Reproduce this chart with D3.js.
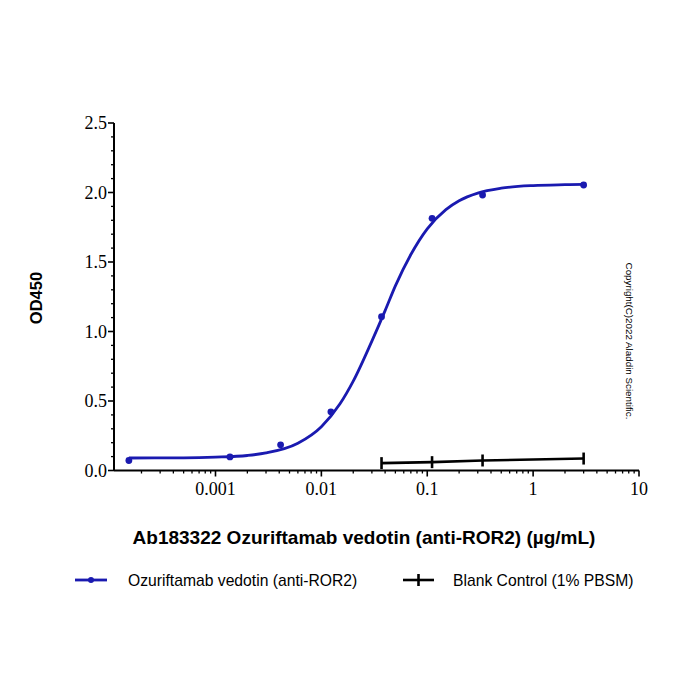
<!DOCTYPE html>
<html><head><meta charset="utf-8">
<script src="https://cdn.jsdelivr.net/npm/d3@7"></script>
<style>body{margin:0;background:#fff}svg{display:block}</style>
</head><body>
<svg id="c" width="700" height="700"></svg>
<script>
// Data
const sampleConc = [0.000152, 0.00137, 0.00412, 0.0123, 0.037, 0.111, 0.333, 3.0];
const sampleOD   = [0.072, 0.098, 0.185, 0.422, 1.107, 1.814, 1.982, 2.054];
const fitConc = [0.000152, 0.0005, 0.001, 0.002, 0.003, 0.006, 0.01, 0.015, 0.02, 0.03, 0.04, 0.05, 0.07, 0.1, 0.15, 0.2, 0.3, 0.5, 1, 2, 3.0];
const fitOD   = [0.090, 0.091, 0.096, 0.108, 0.126, 0.196, 0.315, 0.480, 0.643, 0.931, 1.150, 1.328, 1.554, 1.739, 1.877, 1.941, 1.996, 2.031, 2.050, 2.056, 2.058];
const blankConc = [0.037, 0.111, 0.333, 3.0];
const blankOD   = [0.053, 0.060, 0.072, 0.086];
const xTickValues = [0.001, 0.01, 0.1, 1, 10];
const xTickLabels = ["0.001", "0.01", "0.1", "1", "10"];
const yTickValues = [0, 0.5, 1.0, 1.5, 2.0, 2.5];
const yTickLabels = ["0.0", "0.5", "1.0", "1.5", "2.0", "2.5"];
const seriesNames = ["Ozuriftamab vedotin (anti-ROR2)", "Blank Control (1% PBSM)"];
const xTitle = "Ab183322 Ozuriftamab vedotin (anti-ROR2) (µg/mL)";
const yTitle = "OD450";
const copyright = "Copyright(C)2022 Aladdin Scientific.";

const blue = "#1a1ab0";
const svg = d3.select("#c");
const x = d3.scaleLog().domain([0.00011, 10]).range([114, 639]);
const y = d3.scaleLinear().domain([0, 2.5]).range([470.5, 123]);
const serif = "'Liberation Serif','Times New Roman',serif";
const sans = "'Liberation Sans',Arial,sans-serif";

// Y axis
const yAxisG = svg.append("g").attr("transform","translate(114,0)");
yAxisG.append("line").attr("x1",0).attr("x2",0).attr("y1",y(2.5)).attr("y2",y(0)).attr("stroke","#000").attr("stroke-width",2);
const yMinor = d3.range(0, 26).map(i => i/10).filter(v => Math.abs(v*2 - Math.round(v*2)) > 1e-6);
yAxisG.selectAll(".ymn").data(yMinor).enter().append("line")
  .attr("x1",-3).attr("x2",0).attr("y1",d=>y(d)).attr("y2",d=>y(d)).attr("stroke","#000").attr("stroke-width",1.3);
yAxisG.selectAll(".ymj").data(yTickValues).enter().append("line")
  .attr("x1",-6).attr("x2",0).attr("y1",d=>y(d)).attr("y2",d=>y(d)).attr("stroke","#000").attr("stroke-width",1.6);
yAxisG.selectAll(".ylab").data(yTickValues).enter().append("text")
  .attr("x",-7).attr("y",d=>y(d)).attr("dy","0.34em").attr("text-anchor","end")
  .attr("font-family",serif).attr("font-size",18).attr("fill","#000")
  .text((d,i)=>yTickLabels[i]);

// X axis
const xAxisG = svg.append("g").attr("transform","translate(0,470.5)");
xAxisG.append("line").attr("x1",114).attr("x2",639).attr("y1",0).attr("y2",0).attr("stroke","#000").attr("stroke-width",2);
const xMinor = [];
[0.0001,0.001,0.01,0.1,1].forEach(b => { for (let k=2;k<=9;k++){ const v=b*k; if (v>=0.00011 && v<=10) xMinor.push(v);} });
xAxisG.selectAll(".xmn").data(xMinor).enter().append("line")
  .attr("x1",d=>x(d)).attr("x2",d=>x(d)).attr("y1",0).attr("y2",3).attr("stroke","#000").attr("stroke-width",1.3);
xAxisG.selectAll(".xmj").data(xTickValues).enter().append("line")
  .attr("x1",d=>x(d)).attr("x2",d=>x(d)).attr("y1",0).attr("y2",6).attr("stroke","#000").attr("stroke-width",1.6);
xAxisG.selectAll(".xlab").data(xTickValues).enter().append("text")
  .attr("x",d=>x(d)).attr("y",24.5).attr("text-anchor","middle")
  .attr("font-family",serif).attr("font-size",18).attr("fill","#000")
  .text((d,i)=>xTickLabels[i]);

// Fitted curve
const fitData = fitConc.map((c,i)=>[c, fitOD[i]]);
svg.append("path").datum(fitData)
  .attr("d", d3.line().x(d=>x(d[0])).y(d=>y(d[1])).curve(d3.curveMonotoneX))
  .attr("fill","none").attr("stroke",blue).attr("stroke-width",2.8);
// Sample points
svg.selectAll(".pt").data(sampleConc.map((c,i)=>[c, sampleOD[i]])).enter().append("circle")
  .attr("cx",d=>x(d[0])).attr("cy",d=>y(d[1])).attr("r",3.4).attr("fill",blue);

// Blank series
const blankData = blankConc.map((c,i)=>[c, blankOD[i]]);
svg.append("path").datum(blankData)
  .attr("d", d3.line().x(d=>x(d[0])).y(d=>y(d[1])))
  .attr("fill","none").attr("stroke","#000").attr("stroke-width",2.6);
svg.selectAll(".bm").data(blankData).enter().append("line")
  .attr("x1",d=>x(d[0])).attr("x2",d=>x(d[0])).attr("y1",d=>y(d[1])-6).attr("y2",d=>y(d[1])+6)
  .attr("stroke","#000").attr("stroke-width",2.6);

// Titles
svg.append("text").attr("x",364).attr("y",544).attr("text-anchor","middle")
  .attr("font-family",sans).attr("font-weight","bold").attr("font-size",19).attr("fill","#000").text(xTitle);
svg.append("text").attr("transform","translate(42,298) rotate(-90)").attr("text-anchor","middle")
  .attr("font-family",sans).attr("font-weight","bold").attr("font-size",16.5).attr("fill","#000").text(yTitle);
svg.append("text").attr("transform","translate(626,341) rotate(90)").attr("text-anchor","middle")
  .attr("font-family",sans).attr("font-size",9.8).attr("fill","#000").text(copyright);

// Legend
const lg = svg.append("g");
lg.append("line").attr("x1",75).attr("x2",107).attr("y1",580).attr("y2",580).attr("stroke",blue).attr("stroke-width",2.8);
lg.append("circle").attr("cx",91).attr("cy",580).attr("r",3).attr("fill",blue);
lg.append("text").attr("x",128).attr("y",585.5).attr("font-family",sans).attr("font-size",15.7).attr("fill","#000").text(seriesNames[0]);
lg.append("line").attr("x1",403).attr("x2",434).attr("y1",580).attr("y2",580).attr("stroke","#000").attr("stroke-width",2.6);
lg.append("line").attr("x1",418.5).attr("x2",418.5).attr("y1",574).attr("y2",586).attr("stroke","#000").attr("stroke-width",2.6);
lg.append("text").attr("x",453).attr("y",585.5).attr("font-family",sans).attr("font-size",15.7).attr("fill","#000").text(seriesNames[1]);
</script>
</body></html>
